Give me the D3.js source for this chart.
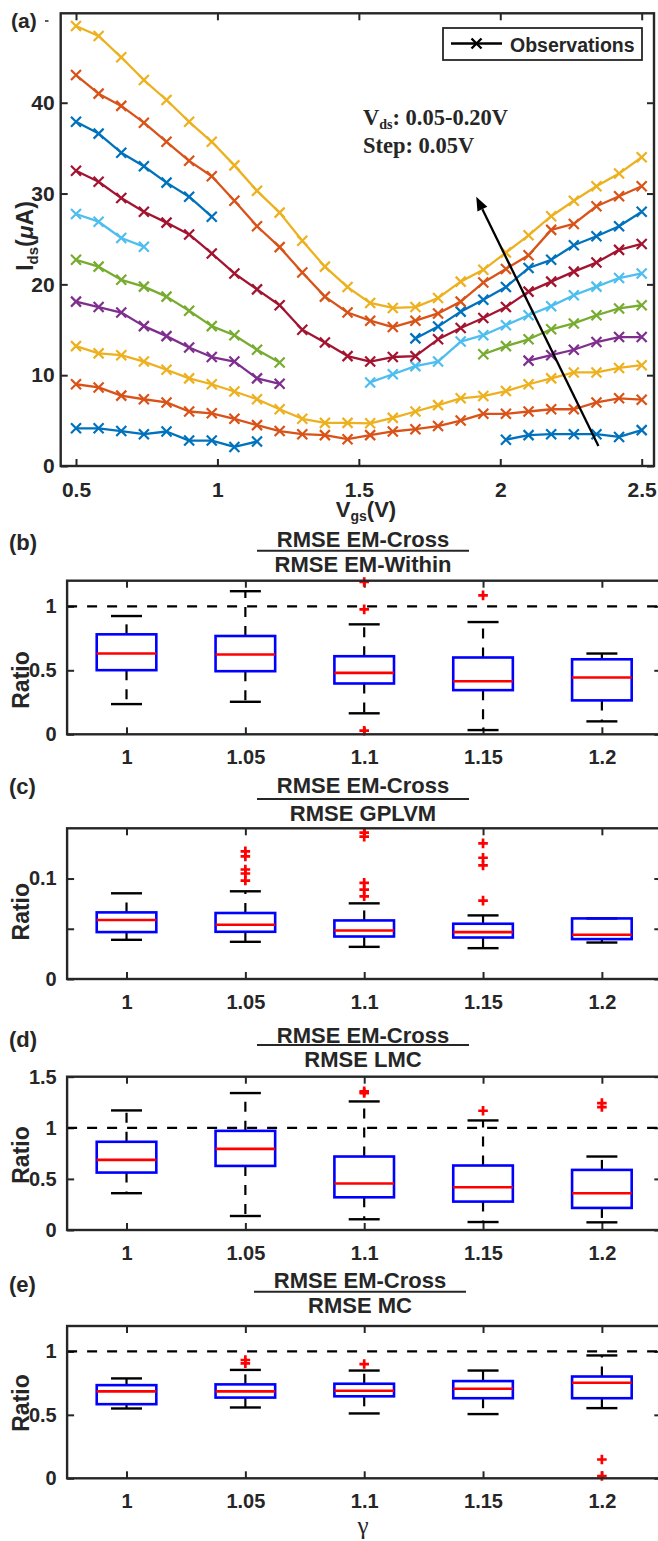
<!DOCTYPE html>
<html>
<head>
<meta charset="utf-8">
<script src="https://cdn.jsdelivr.net/npm/d3@7"></script>
<style>
  body { margin: 0; background: #fff; }
  svg text { font-family: "Liberation Sans", Arial, Helvetica, sans-serif; font-weight: bold; fill: #262626; }
</style>
</head>
<body>
<div id="chart"></div>
<script>
// ---------- data : panel (a) ----------
var vgs = [0.5, 0.58, 0.66, 0.74, 0.82, 0.9, 0.98, 1.06, 1.14, 1.22, 1.3, 1.38, 1.46,
           1.54, 1.62, 1.7, 1.78, 1.86, 1.94, 2.02, 2.1, 2.18, 2.26, 2.34, 2.42, 2.5];

var ids1  = [4.15, 4.15, 3.85, 3.5, 3.8, 2.8, 2.8, 2.1, 2.7, null, null, null, null,
             null, null, null, null, null, null, 2.9, 3.4, 3.5, 3.5, 3.5, 3.2, 3.95];
var ids2  = [9.0, 8.65, 7.75, 7.35, 7.0, 6.0, 5.8, 5.2, 4.5, 3.85, 3.5, 3.4, 2.95,
             3.4, 3.8, 4.05, 4.4, 5.0, 5.75, 5.75, 6.0, 6.25, 6.25, 7.0, 7.45, 7.3];
var ids3  = [13.2, 12.4, 12.2, 11.5, 10.6, 9.65, 9.0, 8.2, 7.35, 6.25, 5.2, 4.75, 4.75,
             4.7, 5.3, 6.0, 6.7, 7.45, 7.7, 8.25, 9.0, 9.65, 10.3, 10.3, 10.8, 11.1];
var ids4  = [18.1, 17.5, 16.9, 15.4, 14.3, 13.05, 12.0, 11.5, 9.65, 9.05, null, null, null,
             null, null, null, null, null, null, null, 11.6, 12.2, 12.8, 13.65, 14.2, 14.2];
var ids5  = [22.7, 21.95, 20.5, 19.75, 18.65, 17.1, 15.4, 14.4, 12.8, 11.4, null, null, null,
             null, null, null, null, null, 12.3, 13.2, 13.95, 15.05, 15.7, 16.6, 17.35, 17.7];
var ids6  = [27.75, 26.9, 25.1, 24.15, null, null, null, null, null, null, null, null, null,
             9.2, 10.1, 11.0, 11.5, 13.7, 14.4, 15.5, 16.6, 17.6, 18.8, 19.75, 20.7, 21.2];
var ids7  = [32.5, 31.3, 29.5, 28.0, 26.8, 25.5, 23.4, 21.2, 19.45, 17.7, 15.0, 13.6, 12.1,
             11.5, 12.0, 12.1, 13.95, 15.2, 16.3, 17.5, 19.2, 20.3, 21.4, 22.4, 23.8, 24.45];
var ids8  = [37.9, 36.6, 34.5, 33.0, 31.2, 29.65, 27.45, null, null, null, null, null, null,
             null, null, 14.05, 15.35, 17.0, 18.3, 19.7, 21.8, 22.7, 24.3, 25.3, 26.4, 28.0];
var ids9  = [43.05, 41.0, 39.65, 37.8, 35.7, 33.6, 31.9, 29.2, 26.4, 24.1, 21.3, 18.65, 16.9,
             16.0, 15.3, 16.0, 16.8, 18.1, 20.2, 21.7, 23.2, 26.0, 26.65, 28.6, 29.7, 30.8];
var ids10 = [48.45, 47.35, 45.0, 42.5, 40.3, 37.9, 35.7, 33.1, 30.3, 27.9, 24.8, 21.95, 19.7,
             17.95, 17.4, 17.5, 18.5, 20.3, 21.6, 23.5, 25.4, 27.5, 29.2, 30.8, 32.2, 34.0];

var allSeries = [ids1, ids2, ids3, ids4, ids5, ids6, ids7, ids8, ids9, ids10];
var seriesColors = ["#0072BD", "#D95319", "#EDB120", "#7E2F8E", "#77AC30",
                    "#4DBEEE", "#A2142F", "#0072BD", "#D95319", "#EDB120"];

var arrowFrom = [2.347, 2.2];
var arrowTo = [1.915, 29.66];

// ---------- data : box plots (b)-(e) ----------
var gammaLabels = ["1", "1.05", "1.1", "1.15", "1.2"];

var withinLo  = [0.236, 0.254, 0.164, 0.033, 0.101];
var withinQ1  = [0.501, 0.493, 0.397, 0.345, 0.265];
var withinMed = [0.631, 0.623, 0.48, 0.415, 0.444];
var withinQ3  = [0.781, 0.768, 0.61, 0.6, 0.586];
var withinHi  = [0.924, 1.118, 0.859, 0.877, 0.631];
var withinOut = [[], [], [1.19, 0.976, 0.028], [1.085], []];

var gplvmLo  = [0.039, 0.037, 0.032, 0.0307, 0.0363];
var gplvmQ1  = [0.0467, 0.047, 0.0423, 0.0413, 0.0397];
var gplvmMed = [0.0587, 0.054, 0.0483, 0.0467, 0.044];
var gplvmQ3  = [0.0663, 0.0657, 0.0583, 0.055, 0.0603];
var gplvmHi  = [0.0853, 0.0873, 0.0753, 0.0633, 0.0603];
var gplvmOut = [[], [0.127, 0.122, 0.109, 0.105, 0.098], [0.1457, 0.1417, 0.0957, 0.089, 0.0823],
                [0.135, 0.1207, 0.113, 0.078], []];

var lmcLo  = [0.36, 0.137, 0.105, 0.078, 0.075];
var lmcQ1  = [0.562, 0.627, 0.32, 0.278, 0.216];
var lmcMed = [0.686, 0.794, 0.455, 0.418, 0.36];
var lmcQ3  = [0.863, 0.97, 0.719, 0.631, 0.588];
var lmcHi  = [1.17, 1.34, 1.258, 1.072, 0.719];
var lmcOut = [[], [], [1.356, 1.34], [1.167], [1.242, 1.203]];

var mcLo  = [0.55, 0.558, 0.511, 0.506, 0.553];
var mcQ1  = [0.584, 0.636, 0.646, 0.631, 0.631];
var mcMed = [0.685, 0.685, 0.69, 0.706, 0.753];
var mcQ3  = [0.734, 0.74, 0.745, 0.766, 0.802];
var mcHi  = [0.787, 0.854, 0.849, 0.849, 0.968];
var mcOut = [[], [0.932, 0.906], [0.9], [], [0.148, 0.018]];

// ---------- svg ----------
var svg = d3.select("#chart").append("svg")
    .attr("width", 658)
    .attr("height", 1541);

var axisColor = "#262626";

function styleAxis(g, fontSize) {
  g.select(".domain").remove();
  g.selectAll(".tick line").attr("stroke", axisColor).attr("stroke-width", 2);
  g.selectAll(".tick text").style("font-size", fontSize + "px").attr("fill", axisColor);
}

// ================= panel (a) =================
var frameA = {left: 60.7, right: 654, top: 13.3, bottom: 466};
var xA = d3.scaleLinear().domain([0.5, 2.5]).range([76, 641.7]);
var yA = d3.scaleLinear().domain([0, 50]).range([466, 11.9]);

var gA = svg.append("g");

gA.append("g")
    .attr("transform", `translate(0, ${frameA.bottom})`)
    .call(d3.axisBottom(xA).tickValues([0.5, 1, 1.5, 2, 2.5]).tickSize(-7).tickFormat(d3.format("~g")))
    .call(g => styleAxis(g, 21))
    .call(g => g.selectAll(".tick text").attr("y", 31).attr("dy", null));

gA.append("g")
    .attr("transform", `translate(0, ${frameA.top})`)
    .call(d3.axisTop(xA).tickValues([0.5, 1, 1.5, 2, 2.5]).tickSize(-7).tickFormat(""))
    .call(g => styleAxis(g, 21));

gA.append("g")
    .attr("transform", `translate(${frameA.left}, 0)`)
    .call(d3.axisLeft(yA).tickValues([0, 10, 20, 30, 40]).tickSize(-7).tickPadding(6))
    .call(g => styleAxis(g, 21));

gA.append("g")
    .attr("transform", `translate(${frameA.right}, 0)`)
    .call(d3.axisRight(yA).tickValues([0, 10, 20, 30, 40]).tickSize(-7).tickFormat(""))
    .call(g => styleAxis(g, 21));

// lines + markers
var lineA = d3.line()
    .defined(d => d[1] != null)
    .x(d => xA(d[0]))
    .y(d => yA(d[1]));

allSeries.forEach(function(s, k) {
  var pts = vgs.map((v, i) => [v, s[i]]);
  gA.append("path")
      .datum(pts)
      .attr("d", lineA)
      .attr("fill", "none")
      .attr("stroke", seriesColors[k])
      .attr("stroke-width", 2.3)
      .attr("stroke-linejoin", "round");
  gA.append("g")
      .selectAll("path")
      .data(pts.filter(d => d[1] != null))
      .enter()
      .append("path")
      .attr("transform", d => `translate(${xA(d[0])}, ${yA(d[1])})`)
      .attr("d", "M-5,-5L5,5M-5,5L5,-5")
      .attr("stroke", seriesColors[k])
      .attr("stroke-width", 2.2);
});

// frame
gA.append("rect")
    .attr("x", frameA.left).attr("y", frameA.top)
    .attr("width", frameA.right - frameA.left)
    .attr("height", frameA.bottom - frameA.top)
    .attr("fill", "none")
    .attr("stroke", axisColor)
    .attr("stroke-width", 2.4);

// arrow
var p0 = [xA(arrowFrom[0]), yA(arrowFrom[1])];
var p1 = [xA(arrowTo[0]), yA(arrowTo[1])];
var ang = Math.atan2(p1[1] - p0[1], p1[0] - p0[0]);
var headLen = 14, headW = 5.5;
var base = [p1[0] - headLen * Math.cos(ang), p1[1] - headLen * Math.sin(ang)];
gA.append("line")
    .attr("x1", p0[0]).attr("y1", p0[1])
    .attr("x2", base[0]).attr("y2", base[1])
    .attr("stroke", "#000").attr("stroke-width", 2.3);
gA.append("path")
    .attr("d", `M${p1[0]},${p1[1]}L${base[0] + headW * Math.sin(ang)},${base[1] - headW * Math.cos(ang)}L${base[0] - headW * Math.sin(ang)},${base[1] + headW * Math.cos(ang)}Z`)
    .attr("fill", "#000");

// annotation
var ann = gA.append("text")
    .attr("x", 363).attr("y", 125)
    .style("font-family", "'Liberation Serif', 'Times New Roman', serif")
    .style("font-size", "22.5px")
    .attr("fill", "#000");
ann.append("tspan").text("V");
ann.append("tspan").attr("dy", 4).style("font-size", "14px").text("ds");
ann.append("tspan").attr("dy", -4).text(": 0.05-0.20V");
gA.append("text")
    .attr("x", 363).attr("y", 153)
    .style("font-family", "'Liberation Serif', 'Times New Roman', serif")
    .style("font-size", "22.5px")
    .attr("fill", "#000")
    .text("Step: 0.05V");

// legend
var leg = gA.append("g");
leg.append("rect")
    .attr("x", 443).attr("y", 28).attr("width", 199).attr("height", 32)
    .attr("fill", "#fff").attr("stroke", axisColor).attr("stroke-width", 1.8);
leg.append("line")
    .attr("x1", 451).attr("x2", 502).attr("y1", 43.5).attr("y2", 43.5)
    .attr("stroke", "#000").attr("stroke-width", 2.3);
leg.append("path")
    .attr("transform", "translate(476.5, 43.5)")
    .attr("d", "M-5,-5L5,5M-5,5L5,-5")
    .attr("stroke", "#000").attr("stroke-width", 2.4);
leg.append("text")
    .attr("x", 510).attr("y", 51.5)
    .style("font-size", "19.5px")
    .attr("fill", "#000")
    .text("Observations");

// axis labels (a)
var xl = gA.append("text")
    .attr("x", 366).attr("y", 517)
    .attr("text-anchor", "middle")
    .style("font-size", "22px");
xl.append("tspan").text("V");
xl.append("tspan").attr("dy", 4).style("font-size", "14px").text("gs");
xl.append("tspan").attr("dy", -4).text("(V)");

var yl = gA.append("text")
    .attr("transform", "translate(33, 236) rotate(-90)")
    .attr("text-anchor", "middle")
    .style("font-size", "23px");
yl.append("tspan").text("I");
yl.append("tspan").attr("dy", 5).style("font-size", "15px").text("ds");
yl.append("tspan").attr("dy", -5).text("(");
yl.append("tspan").style("font-style", "italic").text("\u03bc");
yl.append("tspan").text("A)");

gA.append("text").attr("x", 11).attr("y", 28).style("font-size", "21px").text("(a)");
gA.append("line").attr("x1", 45).attr("x2", 48.5).attr("y1", 21).attr("y2", 21)
    .attr("stroke", axisColor).attr("stroke-width", 1.5);

// ================= box panels =================
var xB = d3.scaleLinear().domain([0.5, 5.5]).range([67.1, 661.3]);

var boxPanels = [
  {tag: "(b)", den: "RMSE EM-Within", lo: withinLo, q1: withinQ1, med: withinMed, q3: withinQ3, hi: withinHi, out: withinOut,
   top: 580.7, bottom: 734.3, ymax: 1.2, ticks: [0, 0.5, 1], ref: true,
   tagY: 550, t1: 546.7, bar: 550.7, t2: 571.7, tx: 363, ratioY: 680},
  {tag: "(c)", den: "RMSE GPLVM", lo: gplvmLo, q1: gplvmQ1, med: gplvmMed, q3: gplvmQ3, hi: gplvmHi, out: gplvmOut,
   top: 828.3, bottom: 979, ymax: 0.15, ticks: [0, 0.05, 0.1], ref: false,
   tagY: 794, t1: 793.3, bar: 799, t2: 820.7, tx: 363, ratioY: 911.7},
  {tag: "(d)", den: "RMSE LMC", lo: lmcLo, q1: lmcQ1, med: lmcMed, q3: lmcQ3, hi: lmcHi, out: lmcOut,
   top: 1076.7, bottom: 1230, ymax: 1.5, ticks: [0, 0.5, 1, 1.5], ref: true,
   tagY: 1047.3, t1: 1042.7, bar: 1045, t2: 1066.7, tx: 363, ratioY: 1155},
  {tag: "(e)", den: "RMSE MC", lo: mcLo, q1: mcQ1, med: mcMed, q3: mcQ3, hi: mcHi, out: mcOut,
   top: 1326, bottom: 1478.3, ymax: 1.2, ticks: [0, 0.5, 1], ref: true,
   tagY: 1292.3, t1: 1288.3, bar: 1291.7, t2: 1312.7, tx: 360, ratioY: 1403}
];

var boxHalf = 29.8, capHalf = 15.5;

boxPanels.forEach(function(p) {
  var g = svg.append("g");
  var y = d3.scaleLinear().domain([0, p.ymax]).range([p.bottom, p.top]);
  var fmt = p.tag === "(c)" ? (d => d === 0.05 ? "" : d3.format("~g")(d)) : d3.format("~g");

  g.append("g")
      .attr("transform", `translate(0, ${p.bottom})`)
      .call(d3.axisBottom(xB).tickValues([1, 2, 3, 4, 5]).tickSize(-7).tickFormat((d, i) => gammaLabels[i]))
      .call(a => styleAxis(a, 20))
      .call(a => a.selectAll(".tick text").attr("y", 30).attr("dy", null));
  g.append("g")
      .attr("transform", `translate(0, ${p.top})`)
      .call(d3.axisTop(xB).tickValues([1, 2, 3, 4, 5]).tickSize(-7).tickFormat(""))
      .call(a => styleAxis(a, 20));
  g.append("g")
      .attr("transform", `translate(${xB.range()[0]}, 0)`)
      .call(d3.axisLeft(y).tickValues(p.ticks).tickSize(-7).tickPadding(10.4).tickFormat(fmt))
      .call(a => styleAxis(a, 20));
  g.append("g")
      .attr("transform", `translate(${xB.range()[1]}, 0)`)
      .call(d3.axisRight(y).tickValues(p.ticks).tickSize(-7).tickFormat(""))
      .call(a => styleAxis(a, 20));

  if (p.ref) {
    g.append("line")
        .attr("x1", xB.range()[0]).attr("x2", xB.range()[1])
        .attr("y1", y(1)).attr("y2", y(1))
        .attr("stroke", "#000").attr("stroke-width", 2.3)
        .attr("stroke-dasharray", "10,10");
  }

  gammaLabels.forEach(function(lab, i) {
    var cx = xB(i + 1);
    // whiskers
    g.append("line").attr("x1", cx).attr("x2", cx).attr("y1", y(p.q3[i])).attr("y2", y(p.hi[i]))
        .attr("stroke", "#000").attr("stroke-width", 2.2).attr("stroke-dasharray", "10,9");
    g.append("line").attr("x1", cx).attr("x2", cx).attr("y1", y(p.q1[i])).attr("y2", y(p.lo[i]))
        .attr("stroke", "#000").attr("stroke-width", 2.2).attr("stroke-dasharray", "10,9");
    // caps
    [p.hi[i], p.lo[i]].forEach(function(v) {
      g.append("line").attr("x1", cx - capHalf).attr("x2", cx + capHalf).attr("y1", y(v)).attr("y2", y(v))
          .attr("stroke", "#000").attr("stroke-width", 2.4);
    });
    // box
    g.append("rect")
        .attr("x", cx - boxHalf).attr("y", y(p.q3[i]))
        .attr("width", 2 * boxHalf).attr("height", y(p.q1[i]) - y(p.q3[i]))
        .attr("fill", "none").attr("stroke", "#0000FF").attr("stroke-width", 2.6);
    // median
    g.append("line").attr("x1", cx - boxHalf).attr("x2", cx + boxHalf)
        .attr("y1", y(p.med[i])).attr("y2", y(p.med[i]))
        .attr("stroke", "#FF0000").attr("stroke-width", 2.6);
    // outliers
    g.selectAll(null).data(p.out[i]).enter().append("path")
        .attr("transform", d => `translate(${cx}, ${y(d)})`)
        .attr("d", "M-4.8,0H4.8M0,-4.8V4.8")
        .attr("stroke", "#FF0000").attr("stroke-width", 2.7);
  });

  // frame
  g.append("rect")
      .attr("x", xB.range()[0]).attr("y", p.top)
      .attr("width", xB.range()[1] - xB.range()[0])
      .attr("height", p.bottom - p.top)
      .attr("fill", "none").attr("stroke", axisColor).attr("stroke-width", 2.4);

  // title (fraction)
  g.append("text").attr("x", p.tx).attr("y", p.t1).attr("text-anchor", "middle")
      .style("font-size", "22px").text("RMSE EM-Cross");
  g.append("line").attr("x1", p.tx - 106).attr("x2", p.tx + 106).attr("y1", p.bar).attr("y2", p.bar)
      .attr("stroke", axisColor).attr("stroke-width", 2);
  g.append("text").attr("x", p.tx).attr("y", p.t2).attr("text-anchor", "middle")
      .style("font-size", "22px").text(p.den);

  g.append("text").attr("x", 9).attr("y", p.tagY).style("font-size", "22px").text(p.tag);

  g.append("text")
      .attr("transform", `translate(28.5, ${p.ratioY}) rotate(-90)`)
      .attr("text-anchor", "middle")
      .style("font-size", "23px")
      .text("Ratio");
});

svg.append("text")
    .attr("x", 363).attr("y", 1534)
    .attr("text-anchor", "middle")
    .style("font-family", "'Liberation Serif', 'Times New Roman', serif")
    .style("font-weight", "normal")
    .style("font-size", "25px")
    .text("\u03b3");
</script>
</body>
</html>
